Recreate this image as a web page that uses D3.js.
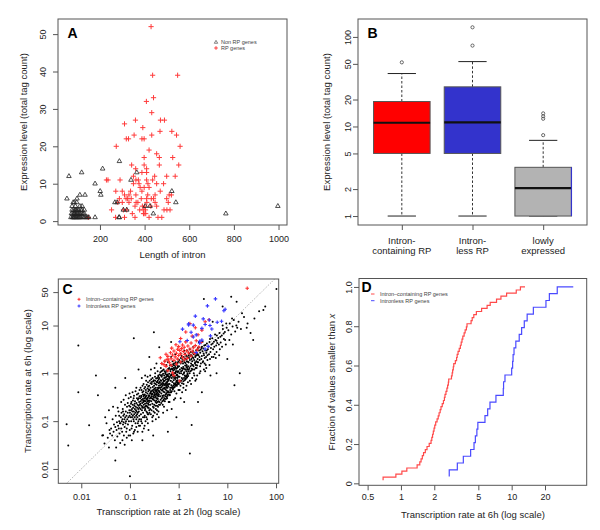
<!DOCTYPE html>
<html><head><meta charset="utf-8">
<script src="https://cdn.jsdelivr.net/npm/d3@7"></script>
<style>body{margin:0;background:#fff}svg{display:block}</style>
</head><body><svg id="fig" width="600" height="530"></svg>
<script>
// ---------- Panel A data: intron length vs expression ----------
const nonRPGenes = [[61,12],[118,13],[212,14],[52,6],[80,5],[96,5],[110,7],[133,7],[178,10],[201,8],[204,7],[267,5],[277,5],[305,3],[320,3],[287,1],[178,1],[365,13],[339,11],[287,16],[403,4],[424,4],[439,2],[522,8],[540,5],[764,2],[997,4],[285,1],[97,6],
[70,1],[72,2],[75,3],[77,1],[78,2],[80,1],[82,3],[84,2],[85,1],[86,2],[88,1],[88,3],[90,2],[92,1],[94,2],[95,3],[96,1],[98,2],[100,1],[102,2],[104,1],[105,3],[108,2],[110,1],[112,2],[115,1],[118,2],[120,3],[122,1],[125,2],[128,1],[130,2],[135,1],[140,1],[145,1],[75,4],[90,4],[110,4],[120,4],[85,5],[100,3],[115,3],[130,3],[150,1],[82,1],[92,3],[107,1]];
const rpGenes = [[429,52],[436,39],[548,39],[408,32],[440,33],[432,29],[471,27],[489,27],[359,27],[310,26],[392,25],[432,23],[353,23],[469,24],[522,24],[543,23],[318,22],[328,22],[388,22],[398,22],[273,20],[559,20],[420,19],[454,18],[466,17],[398,17],[526,17],[342,15],[398,15],[466,15],[553,15],[360,14],[409,14],[388,13],[409,13],[236,11],[229,11],[361,11],[372,11],[409,11],[436,11],[499,12],[537,12],[454,10],[350,10],[398,9],[271,8],[337,8],[388,8],[310,7],[361,7],[414,7],[447,7],[510,7],[287,6],[324,6],[409,6],[499,6],
[252,3],[305,3],[310,1],[320,3],[330,5],[340,6],[357,4],[357,1],[370,5],[378,3],[385,6],[394,3],[398,2],[400,4],[404,3],[410,5],[420,1],[428,4],[440,6],[447,5],[454,4],[460,1],[477,1],[487,3],[500,3],[506,5],[514,3],[520,7],[300,5],[317,6],[345,2],[362,5],[395,2],[405,2],[390,4],[280,5],[270,1],[148,1],[330,7],[380,9],[420,9],[430,6],[470,8],[485,10],[350,12],[375,10],[415,10],[445,12],[300,8],[290,11]];
const aXTicks = [200,400,600,800,1000];
const aYTicks = [0,10,20,30,40,50];

// ---------- Panel B data: boxplot statistics ----------
const bLabels = [["Intron-","containing RP"],["Intron-","less RP"],["lowly","expressed"]];
const bLower = [1,1,1];
const bQ1 = [5,5,1];
const bMedian = [11,11.1,2.05];
const bQ3 = [19,27.7,3.5];
const bUpper = [39,53,7];
const bOutliers = [[52],[80,128],[8,12.2,13,14]];
const bFills = ["#ff0000","#3333cc","#b3b3b3"];
const bYTicks = [1,2,5,10,20,50,100];

// ---------- Panel C data: transcription rate 2h vs 6h ----------
const intronRP2h = [1.05,0.8,0.75,0.6,0.55,0.7,0.5,0.9,0.45,0.65,1.1,0.52,0.8,0.62,1.3,0.58,0.95,0.7,1.5,0.42,1.2,0.85,0.6,1.8,1.0,0.75,1.35,0.55,1.1,2.1,0.9,1.6,0.68,1.25,1.9,0.8,1.45,1.05,2.4,0.95,1.7,1.15,0.72,2.0,1.3,2.6,1.0,1.55,2.2,1.2,0.88,1.8,2.9,1.4,2.3,1.1,1.9,2.5,1.4,3.0,2.2,1.7,3.5,4.2,25.6];
const intronRP6h = [0.69,0.9,1.02,1.13,1.4,1.48,1.52,1.56,1.6,1.66,1.72,1.8,1.87,1.9,1.93,1.96,1.99,2.02,2.06,2.12,2.17,2.21,2.26,2.3,2.36,2.42,2.47,2.5,2.55,2.6,2.64,2.68,2.7,2.86,2.9,2.93,2.97,3.0,3.1,3.18,3.22,3.28,3.36,3.44,3.5,3.56,3.62,3.72,3.8,3.9,3.95,4.3,4.4,4.55,4.8,5.35,6.0,6.4,7.3,8.0,9.0,11.0,12.0,13.2,60];
const intronlessRP2h = [2.3,3.5,4.05,2.7,1.06,2.7,1.5,3.0,2.0,4.5,2.3,1.8,1.2,4.8,3.0,4.4,2.0,1.6,3.5,1.6,6.2,7.6,4.26,3.2,2.2,8.5,9.0,3.9,5.7];
const intronlessRP6h = [2.73,3.23,3.66,4.26,4.57,4.7,4.85,4.95,5.74,6.07,6.37,7.21,8.4,8.45,8.7,10.0,10.2,10.3,10.5,10.9,11.7,12.3,13.0,13.8,15.7,20.4,21.9,25.8,36];
const otherGenes = [
[0.027,0.05],[0.03,0.034],[0.033,0.09],[0.035,0.045],[0.037,0.028],[0.038,0.065],[0.031,0.12],[0.039,0.055],
[0.041,0.07],[0.043,0.05],[0.044,0.11],[0.046,0.06],[0.047,0.085],[0.049,0.04],[0.05,0.075],[0.051,0.13],[0.053,0.065],[0.054,0.095],[0.055,0.048],[0.057,0.08],[0.058,0.16],[0.059,0.07],[0.06,0.1],[0.061,0.055],[0.062,0.09],[0.045,0.2],
[0.064,0.09],[0.065,0.12],[0.066,0.07],[0.067,0.15],[0.068,0.1],[0.069,0.06],[0.07,0.11],[0.071,0.18],[0.072,0.085],[0.073,0.13],[0.074,0.095],[0.075,0.05],[0.076,0.14],[0.077,0.11],[0.078,0.075],[0.079,0.22],[0.08,0.12],[0.081,0.09],[0.082,0.16],[0.083,0.1],[0.085,0.13],[0.086,0.07],[0.087,0.2],[0.088,0.11],[0.09,0.15],[0.091,0.085],[0.093,0.12],[0.094,0.3],[0.095,0.1],[0.097,0.17],[0.098,0.13],[0.099,0.065],
[0.1,0.15],[0.102,0.2],[0.103,0.12],[0.105,0.17],[0.106,0.1],[0.107,0.25],[0.108,0.14],[0.11,0.18],[0.111,0.08],[0.112,0.16],[0.114,0.22],[0.115,0.13],[0.116,0.19],[0.118,0.11],[0.119,0.3],[0.12,0.16],[0.122,0.14],[0.123,0.21],[0.125,0.12],[0.126,0.18],[0.127,0.26],[0.129,0.15],[0.13,0.09],[0.131,0.2],[0.133,0.17],[0.134,0.13],[0.136,0.24],[0.137,0.16],[0.139,0.36],[0.14,0.19],[0.142,0.12],[0.143,0.22],[0.145,0.15],[0.146,0.28],[0.148,0.18],[0.149,0.1],[0.151,0.21],[0.152,0.16],[0.154,0.25],[0.155,0.13],[0.156,0.19],[0.157,0.45],[0.121,0.06],[0.135,0.5],[0.109,0.04],
[0.16,0.22],[0.162,0.3],[0.164,0.18],[0.166,0.26],[0.168,0.14],[0.17,0.34],[0.172,0.21],[0.174,0.28],[0.176,0.17],[0.178,0.24],[0.18,0.4],[0.182,0.2],[0.184,0.29],[0.186,0.15],[0.188,0.25],[0.19,0.33],[0.192,0.22],[0.194,0.19],[0.196,0.3],[0.198,0.12],[0.2,0.27],[0.202,0.36],[0.204,0.23],[0.206,0.18],[0.208,0.31],[0.21,0.26],[0.212,0.45],[0.214,0.21],[0.216,0.29],[0.218,0.16],[0.22,0.34],[0.222,0.24],[0.224,0.28],[0.226,0.2],[0.228,0.38],[0.23,0.26],[0.232,0.14],[0.234,0.31],[0.236,0.23],[0.238,0.42],[0.24,0.27],[0.242,0.19],[0.244,0.33],[0.246,0.25],[0.248,0.55],[0.17,0.1],[0.19,0.6],[0.2,0.08],[0.215,0.7],[0.225,0.11],[0.235,0.65],[0.245,0.35],[0.185,0.36],[0.195,0.26],[0.205,0.2],
[0.25,0.34],[0.253,0.45],[0.256,0.27],[0.259,0.38],[0.262,0.22],[0.265,0.5],[0.268,0.31],[0.271,0.42],[0.274,0.26],[0.277,0.36],[0.28,0.6],[0.283,0.3],[0.286,0.44],[0.289,0.23],[0.292,0.37],[0.295,0.52],[0.298,0.33],[0.301,0.28],[0.304,0.46],[0.307,0.19],[0.31,0.4],[0.313,0.55],[0.316,0.35],[0.319,0.27],[0.322,0.48],[0.325,0.39],[0.328,0.7],[0.331,0.32],[0.334,0.43],[0.337,0.25],[0.34,0.5],[0.343,0.36],[0.346,0.41],[0.349,0.3],[0.352,0.58],[0.355,0.38],[0.358,0.21],[0.361,0.46],[0.364,0.35],[0.367,0.65],[0.37,0.4],[0.373,0.29],[0.376,0.5],[0.379,0.37],[0.382,0.85],[0.385,0.16],[0.388,0.44],[0.391,0.33],[0.394,0.55],[0.397,0.42],[0.26,0.9],[0.3,0.13],[0.33,1.0],[0.36,0.14],[0.39,0.75],
[0.4,0.5],[0.405,0.66],[0.41,0.4],[0.415,0.56],[0.42,0.33],[0.425,0.72],[0.43,0.46],[0.435,0.6],[0.44,0.38],[0.445,0.52],[0.45,0.85],[0.455,0.44],[0.46,0.63],[0.465,0.34],[0.47,0.55],[0.475,0.75],[0.48,0.48],[0.485,0.41],[0.49,0.68],[0.495,0.28],[0.5,0.58],[0.505,0.8],[0.51,0.5],[0.515,0.4],[0.52,0.7],[0.525,0.56],[0.53,1.0],[0.535,0.46],[0.54,0.62],[0.545,0.36],[0.55,0.74],[0.555,0.52],[0.56,0.6],[0.565,0.44],[0.57,0.86],[0.575,0.55],[0.58,0.3],[0.585,0.67],[0.59,0.5],[0.595,0.95],[0.6,0.58],[0.605,0.42],[0.61,0.72],[0.615,0.54],[0.62,1.2],[0.625,0.25],[0.43,1.3],[0.5,0.2],[0.56,1.5],[0.47,0.22],
[0.63,0.75],[0.64,0.98],[0.65,0.6],[0.66,0.84],[0.67,0.5],[0.68,1.1],[0.69,0.7],[0.7,0.9],[0.71,0.56],[0.72,0.8],[0.73,1.25],[0.74,0.66],[0.75,0.95],[0.76,0.48],[0.77,0.85],[0.78,1.15],[0.79,0.72],[0.8,0.62],[0.81,1.02],[0.82,0.42],[0.83,0.88],[0.84,1.3],[0.85,0.76],[0.86,0.6],[0.87,1.05],[0.88,0.82],[0.89,1.5],[0.9,0.7],[0.91,0.92],[0.92,0.55],[0.93,1.1],[0.94,0.8],[0.95,0.9],[0.96,0.65],[0.97,1.35],[0.98,0.85],[0.99,0.45],[0.66,0.35],[0.75,1.8],[0.85,0.3],[0.95,2.0],[0.7,0.4],[0.8,1.6],[0.9,0.38],[0.72,0.18],
[1.0,1.1],[1.02,1.4],[1.04,0.85],[1.06,1.2],[1.08,0.7],[1.1,1.6],[1.12,1.0],[1.14,1.3],[1.16,0.8],[1.18,1.15],[1.2,1.8],[1.22,0.95],[1.24,1.35],[1.26,0.6],[1.28,1.25],[1.3,1.05],[1.32,1.7],[1.34,0.9],[1.36,1.45],[1.38,0.75],[1.4,1.2],[1.42,2.0],[1.44,1.1],[1.46,1.5],[1.48,0.85],[1.5,1.3],[1.52,1.0],[1.54,2.2],[1.56,1.4],[1.05,0.45],[1.15,2.3],[1.25,0.5],[1.35,2.6],[1.45,0.55],[1.55,0.65],[1.1,0.3],[1.3,0.25],[1.5,3.0],
[1.6,1.7],[1.63,2.1],[1.66,1.3],[1.7,1.9],[1.73,1.1],[1.76,2.4],[1.8,1.6],[1.83,2.0],[1.86,1.25],[1.9,1.8],[1.93,2.7],[1.96,1.5],[2.0,2.1],[2.04,1.0],[2.08,1.9],[2.12,2.5],[2.16,1.6],[2.2,2.2],[2.24,1.3],[2.28,3.0],[2.32,1.8],[2.36,2.4],[2.4,1.45],[2.45,2.0],[2.48,3.4],[1.7,0.7],[1.9,0.8],[2.1,0.9],[2.3,0.75],[2.0,3.6],
[2.55,2.4],[2.62,3.0],[2.7,1.9],[2.78,2.7],[2.86,1.6],[2.94,3.4],[3.0,2.3],[3.1,2.9],[3.18,1.8],[3.26,2.6],[3.35,3.8],[3.44,2.1],[3.52,3.0],[3.6,1.5],[3.7,2.7],[3.8,4.2],[3.9,2.4],[3.98,3.2],[2.8,1.1],[3.3,1.2],[3.7,1.3],[2.6,4.5],
[4.1,3.6],[4.3,4.5],[4.5,2.8],[4.7,4.0],[4.9,5.4],[5.1,3.2],[5.3,4.6],[5.5,2.5],[5.7,5.0],[5.9,3.8],[6.1,6.2],[6.2,4.3],[4.4,2.0],[5.2,2.2],[6.0,2.8],
[6.5,5.5],[6.9,7.0],[7.3,4.4],[7.7,6.2],[8.1,8.5],[8.5,5.2],[8.9,7.3],[9.3,4.0],[9.7,9.0],[7.0,3.2],
[10.5,8.0],[11.2,11],[12,6.5],[12.8,9.5],[13.6,13],[14.5,7.5],[15.3,10],[17,12],[19,8.5],[22,15],[26,11],[30,7],[36,14],[45,20],[60,25],[102,58],[55,21],
[0.0054,0.031],[0.005,0.086],[0.1,0.007],[0.0087,0.4],[0.0145,0.082],[0.028,0.051],[0.037,0.17],[0.0087,3.8],[0.31,7.2],[0.12,5.4],[1.7,0.021],[1.85,0.083],[14,0.56],[18,1.0],[34,5],[3.3,36],[15.5,31.6],[0.6,0.06],[0.02,0.9],[0.05,0.5],[0.15,1.2],[0.08,0.8],[0.4,3.5],[0.25,2.2],[0.9,0.12],[3,0.4],[6,1.0],[10,2],[0.3,0.05],[0.18,0.04],[0.05,0.015],[0.022,0.35],[12,40],[8,25],[5,12],[0.7,4.5],[0.35,1.6],[4.5,0.9],[2.5,0.25],
[0.052,0.028],[0.056,0.19],[0.063,0.035],[0.066,0.25],[0.07,0.04],[0.074,0.28],[0.078,0.032],[0.082,0.35],[0.086,0.045],[0.09,0.24],[0.094,0.05],[0.098,0.38],[0.06,0.13],[0.072,0.16],[0.084,0.06],[0.096,0.21],
[0.101,0.05],[0.104,0.32],[0.108,0.07],[0.113,0.4],[0.117,0.055],[0.121,0.34],[0.126,0.065],[0.13,0.42],[0.135,0.075],[0.139,0.3],[0.144,0.06],[0.148,0.38],[0.153,0.08],[0.157,0.33],[0.105,0.23],[0.115,0.27],[0.125,0.23],[0.135,0.11],[0.145,0.09],[0.155,0.11],[0.11,0.12],[0.12,0.1],[0.14,0.14],[0.15,0.3],
[0.161,0.08],[0.165,0.5],[0.169,0.11],[0.173,0.45],[0.177,0.09],[0.181,0.55],[0.185,0.12],[0.189,0.42],[0.193,0.07],[0.197,0.48],[0.201,0.13],[0.205,0.52],[0.209,0.1],[0.213,0.4],[0.217,0.12],[0.221,0.58],[0.225,0.15],[0.229,0.48],[0.233,0.09],[0.237,0.53],[0.241,0.14],[0.245,0.46],[0.249,0.17],[0.163,0.23],[0.171,0.32],[0.179,0.19],[0.187,0.27],[0.195,0.35],[0.203,0.17],[0.211,0.33],[0.219,0.21],[0.227,0.3],[0.235,0.19],[0.243,0.22],[0.175,0.8],[0.205,0.9],[0.23,0.85],[0.18,0.06],[0.24,0.065],
[0.251,0.15],[0.255,0.7],[0.26,0.18],[0.264,0.62],[0.269,0.14],[0.273,0.75],[0.278,0.17],[0.282,0.66],[0.287,0.12],[0.291,0.8],[0.296,0.2],[0.3,0.68],[0.305,0.16],[0.309,0.72],[0.314,0.22],[0.318,0.62],[0.323,0.15],[0.327,0.85],[0.332,0.21],[0.336,0.6],[0.341,0.18],[0.345,0.78],[0.35,0.24],[0.354,0.66],[0.359,0.17],[0.363,0.8],[0.368,0.25],[0.372,0.7],[0.377,0.2],[0.381,0.9],[0.386,0.26],[0.39,0.62],[0.395,0.22],[0.399,0.8],[0.257,0.3],[0.266,0.4],[0.275,0.33],[0.284,0.38],[0.293,0.29],[0.302,0.42],[0.311,0.31],[0.32,0.36],[0.329,0.45],[0.338,0.33],[0.347,0.27],[0.356,0.44],[0.365,0.3],[0.374,0.34],[0.383,0.48],[0.392,0.36],[0.27,1.2],[0.32,1.3],[0.37,1.1],[0.29,0.1],[0.34,0.11],[0.39,0.12],
[0.402,0.25],[0.408,0.95],[0.414,0.22],[0.42,1.05],[0.426,0.28],[0.432,0.9],[0.438,0.24],[0.444,1.1],[0.45,0.3],[0.456,0.92],[0.462,0.26],[0.468,1.15],[0.474,0.32],[0.48,0.98],[0.486,0.27],[0.492,1.2],[0.498,0.35],[0.504,0.9],[0.51,0.3],[0.516,1.1],[0.522,0.26],[0.528,0.82],[0.534,0.33],[0.54,1.05],[0.546,0.29],[0.552,0.95],[0.558,0.38],[0.564,1.15],[0.57,0.32],[0.576,0.88],[0.582,0.4],[0.588,1.1],[0.594,0.34],[0.6,0.9],[0.606,0.36],[0.612,1.25],[0.618,0.4],[0.624,0.85],[0.41,0.64],[0.425,0.5],[0.44,0.7],[0.455,0.58],[0.47,0.45],[0.485,0.62],[0.5,0.7],[0.515,0.48],[0.53,0.6],[0.545,0.82],[0.56,0.5],[0.575,0.65],[0.59,0.76],[0.605,0.6],[0.62,0.7],[0.45,1.6],[0.52,1.8],[0.6,1.7],[0.48,0.15],[0.58,0.17],
[0.632,0.4],[0.641,1.3],[0.65,0.36],[0.659,1.45],[0.668,0.45],[0.677,1.2],[0.686,0.4],[0.695,1.5],[0.704,0.5],[0.713,1.25],[0.722,0.42],[0.731,1.4],[0.74,0.52],[0.749,1.2],[0.758,0.46],[0.767,1.55],[0.776,0.55],[0.785,1.3],[0.794,0.5],[0.803,1.45],[0.812,0.58],[0.821,1.2],[0.83,0.52],[0.839,1.6],[0.848,0.6],[0.857,1.35],[0.866,0.55],[0.875,1.7],[0.884,0.65],[0.893,1.25],[0.902,0.58],[0.911,1.5],[0.92,0.68],[0.929,1.3],[0.938,0.6],[0.947,1.65],[0.956,0.72],[0.965,1.4],[0.974,0.62],[0.983,1.75],[0.645,0.8],[0.68,0.9],[0.71,0.95],[0.74,1.0],[0.78,0.92],[0.81,0.8],[0.85,1.0],[0.88,1.1],[0.92,0.95],[0.96,1.05],[0.7,2.2],[0.85,2.5],[0.65,0.25],[0.8,0.28],
[1.01,0.6],[1.03,1.9],[1.05,0.65],[1.07,1.7],[1.09,0.55],[1.11,2.1],[1.13,0.7],[1.15,1.75],[1.17,0.62],[1.19,2.0],[1.21,0.75],[1.23,1.6],[1.25,0.68],[1.27,2.2],[1.29,0.8],[1.31,1.85],[1.33,0.72],[1.35,2.05],[1.37,0.85],[1.39,1.65],[1.41,0.78],[1.43,2.3],[1.45,0.9],[1.47,1.8],[1.49,0.82],[1.51,2.1],[1.53,0.95],[1.55,1.75],[1.57,0.88],[1.59,2.4],[1.04,1.0],[1.12,1.1],[1.2,1.25],[1.28,1.0],[1.36,1.2],[1.44,1.35],[1.52,1.2],[1.58,1.1],[1.18,0.4],[1.4,0.45],[1.3,3.0],[1.1,2.6],
[1.62,1.2],[1.65,2.6],[1.68,1.0],[1.72,2.3],[1.75,1.4],[1.78,2.8],[1.82,1.15],[1.85,2.4],[1.88,1.5],[1.92,2.2],[1.95,1.2],[1.98,2.9],[2.02,1.4],[2.06,2.5],[2.1,1.2],[2.14,2.7],[2.18,1.7],[2.22,2.3],[2.26,1.5],[2.3,2.6],[2.34,1.3],[2.38,3.1],[2.42,1.7],[2.46,2.5],[1.8,0.6],[2.2,0.7],[2.4,0.9],[1.7,3.2],
[2.52,1.7],[2.6,3.5],[2.68,2.2],[2.76,1.4],[2.84,3.1],[2.92,2.0],[3.02,3.6],[3.12,1.7],[3.22,3.3],[3.32,2.4],[3.42,1.6],[3.54,3.9],[3.66,2.2],[3.78,3.0],[3.9,1.9],[2.7,1.0],[3.5,1.1],[3.1,4.6],
[4.2,2.5],[4.4,5.2],[4.6,3.4],[4.8,2.2],[5.0,4.2],[5.4,3.6],[5.8,2.1],[6.0,4.8],[4.3,1.5],[5.6,6.5],
[6.7,4.0],[7.2,5.8],[7.8,3.6],[8.4,6.8],[9.0,5.0],[9.5,11],[6.8,2.4],[8.0,10],
[11,5],[12.5,14],[16,9],[20,18],[25,9],[13,4]];
const cXTicks = [0.01,0.1,1,10,100];
const cYTicks = [0.01,0.1,1,10,50];

// ---------- Panel D data: sorted 6h rates for ECDF ----------
const ecdfIntron6h = [0.69,0.9,1.02,1.13,1.4,1.48,1.52,1.56,1.6,1.66,1.72,1.8,1.87,1.9,1.93,1.96,1.99,2.02,2.06,2.12,2.17,2.21,2.26,2.3,2.36,2.42,2.47,2.5,2.55,2.6,2.64,2.68,2.7,2.86,2.9,2.93,2.97,3.0,3.1,3.18,3.22,3.28,3.36,3.44,3.5,3.56,3.62,3.72,3.8,3.9,3.95,4.3,4.4,4.55,4.8,5.35,6.0,6.4,7.3,8.0,9.0,11.0,12.0,13.2];
const ecdfIntronless6h = [2.73,3.23,3.66,4.26,4.57,4.7,4.85,4.95,5.74,6.07,6.37,7.21,8.4,8.45,8.7,10.0,10.2,10.3,10.5,10.9,11.7,12.3,13.0,13.8,15.7,20.4,21.9,25.8,36];
const dXTicks = [0.5,1,2,5,10,20];
const dYTicks = [0,0.2,0.4,0.6,0.8,1.0];

// ================= drawing =================
const FONT = '"Liberation Sans", Arial, Helvetica, sans-serif';
const svg = d3.select("#fig").attr("font-family", FONT);
const BOX = "#555", TXT = "#222";

function frame(x0, y0, x1, y1) {
  svg.append("rect").attr("x", x0).attr("y", y0).attr("width", x1 - x0).attr("height", y1 - y0)
    .attr("fill", "none").attr("stroke", BOX).attr("stroke-width", 1);
}
function bottomAxis(scale, y, ticks, fmt, baseline) {
  const g = svg.append("g").attr("transform", `translate(0,${y})`)
    .call(d3.axisBottom(scale).tickValues(ticks).tickFormat(fmt).tickSize(5).tickSizeOuter(0));
  g.attr("font-family", FONT).attr("font-size", 9);
  g.select(".domain").remove();
  g.selectAll(".tick line").attr("stroke", BOX);
  g.selectAll(".tick text").attr("y", baseline - y).attr("dy", null).attr("fill", TXT);
  return g;
}
function leftAxis(scale, x, ticks, fmt, centerX) {
  const g = svg.append("g").attr("transform", `translate(${x},0)`)
    .call(d3.axisLeft(scale).tickValues(ticks).tickFormat(fmt).tickSize(5).tickSizeOuter(0));
  g.attr("font-family", FONT).attr("font-size", 9);
  g.select(".domain").remove();
  g.selectAll(".tick line").attr("stroke", BOX);
  g.selectAll(".tick text").attr("x", null).attr("dy", null).attr("text-anchor", "middle").attr("fill", TXT)
    .attr("transform", `translate(${centerX - x + 3.2},0) rotate(-90)`);
  return g;
}
function yTitle(text, cx, cy) {
  return svg.append("text").attr("transform", `translate(${cx + 3.4},${cy}) rotate(-90)`)
    .attr("text-anchor", "middle").attr("font-size", 9.5).attr("fill", TXT).text(text);
}
function xTitle(text, cx, baseline) {
  return svg.append("text").attr("x", cx).attr("y", baseline).attr("text-anchor", "middle")
    .attr("font-size", 9.5).attr("fill", TXT).text(text);
}
function letter(t, x, y) {
  svg.append("text").attr("x", x).attr("y", y).attr("font-size", 14).attr("font-weight", "bold").attr("fill", "#000").text(t);
}
const plusPath = s => `M${-s},0H${s}M0,${-s}V${s}`;
const tri = d3.symbol(d3.symbolTriangle, 9);

// ----- Panel A -----
{
  const x = d3.scaleLinear([12, 1038], [58, 287]);
  const y = d3.scaleLinear([-1.04, 54.04], [225, 19]);
  svg.append("g").selectAll("path").data(rpGenes).join("path")
    .attr("transform", d => `translate(${x(d[0])},${y(d[1])})`).attr("d", plusPath(2.6))
    .attr("stroke", "#ff3b3b").attr("stroke-width", 1).attr("fill", "none");
  svg.append("g").selectAll("path").data(nonRPGenes).join("path")
    .attr("transform", d => `translate(${x(d[0])},${y(d[1])})`).attr("d", tri)
    .attr("stroke", "#222").attr("stroke-width", 0.8).attr("fill", "none");
  frame(58, 19, 287, 225);
  bottomAxis(x, 225, aXTicks, d3.format("d"), 242);
  leftAxis(y, 58, aYTicks, d3.format("d"), 43);
  xTitle("Length of intron", 172.5, 257.5);
  yTitle("Expression level (total tag count)", 24, 122);
  letter("A", 67.5, 38);
  svg.append("path").attr("transform", "translate(216,42.3)").attr("d", d3.symbol(d3.symbolTriangle, 5)())
    .attr("stroke", "#333").attr("stroke-width", 0.6).attr("fill", "none");
  svg.append("path").attr("transform", "translate(216,48)").attr("d", plusPath(1.8))
    .attr("stroke", "#ff3b3b").attr("stroke-width", 1);
  svg.append("text").attr("x", 221).attr("y", 44.2).attr("font-size", 5.5).attr("fill", "#444").text("Non RP genes");
  svg.append("text").attr("x", 221).attr("y", 50).attr("font-size", 5.5).attr("fill", "#444").text("RP genes");
}

// ----- Panel B -----
{
  const x = d3.scaleLinear([0.38, 3.62], [358, 587]);
  const y = d3.scaleLog([Math.pow(10, -0.1), Math.pow(10, 2.2)], [225, 19]);
  const g = svg.append("g");
  bLabels.forEach((lab, i) => {
    const cx = x(i + 1), hw = x(i + 1.4) - cx, cap = hw * 0.5;
    g.append("line").attr("x1", cx).attr("x2", cx).attr("y1", y(bQ3[i])).attr("y2", y(bUpper[i]))
      .attr("stroke", "#333").attr("stroke-dasharray", "2.5,2").attr("stroke-width", 1);
    g.append("line").attr("x1", cx).attr("x2", cx).attr("y1", y(bQ1[i])).attr("y2", y(bLower[i]))
      .attr("stroke", "#333").attr("stroke-dasharray", "2.5,2").attr("stroke-width", 1);
    g.append("line").attr("x1", cx - cap).attr("x2", cx + cap).attr("y1", y(bUpper[i])).attr("y2", y(bUpper[i]))
      .attr("stroke", "#222").attr("stroke-width", 1);
    g.append("line").attr("x1", cx - cap).attr("x2", cx + cap).attr("y1", y(bLower[i])).attr("y2", y(bLower[i]))
      .attr("stroke", "#222").attr("stroke-width", 1);
    g.append("rect").attr("x", cx - hw).attr("width", 2 * hw).attr("y", y(bQ3[i])).attr("height", y(bQ1[i]) - y(bQ3[i]))
      .attr("fill", bFills[i]).attr("stroke", "#555").attr("stroke-width", 1);
    g.append("line").attr("x1", cx - hw).attr("x2", cx + hw).attr("y1", y(bMedian[i])).attr("y2", y(bMedian[i]))
      .attr("stroke", "#111").attr("stroke-width", 2.2);
    g.selectAll(null).data(bOutliers[i]).join("circle").attr("cx", cx).attr("cy", d => y(d)).attr("r", 1.6)
      .attr("fill", "none").attr("stroke", "#444").attr("stroke-width", 0.8);
    if (i === 2) g.append("line").attr("x1", cx + hw).attr("x2", cx + hw).attr("y1", y(bQ3[i])).attr("y2", y(bQ1[i]))
      .attr("stroke", "#3333cc").attr("stroke-width", 1.2);
    lab.forEach((t, k) => svg.append("text").attr("x", cx).attr("y", 243.5 + k * 10.7).attr("text-anchor", "middle")
      .attr("font-size", 9.5).attr("fill", TXT).text(t));
  });
  frame(358, 19, 587, 225);
  bottomAxis(x, 225, [1, 2, 3], () => "", 240);
  leftAxis(y, 358, bYTicks, d3.format("d"), 347.7);
  yTitle("Expression level (total tag count)", 326.7, 122);
  letter("B", 367.5, 38);
}

// ----- Panel C -----
{
  const x = d3.scaleLog([Math.pow(10, -2.472), Math.pow(10, 2.055)], [58.3, 278.7]);
  const y = d3.scaleLog([Math.pow(10, -2.30), Math.pow(10, 1.973)], [483.3, 279]);
  const v0 = Math.pow(10, -2.30), v1 = Math.pow(10, 1.973);
  svg.append("line").attr("x1", x(v0)).attr("y1", y(v0)).attr("x2", x(v1)).attr("y2", y(v1))
    .attr("stroke", "#888").attr("stroke-dasharray", "1,1.5").attr("stroke-width", 0.8);
  svg.append("g").selectAll("circle").data(otherGenes).join("circle")
    .attr("cx", d => x(d[0])).attr("cy", d => y(d[1])).attr("r", 1.0).attr("fill", "#000");
  svg.append("g").selectAll("path").data(intronRP6h).join("path")
    .attr("transform", (d, i) => `translate(${x(intronRP2h[i])},${y(d)})`).attr("d", plusPath(1.8))
    .attr("stroke", "#ff3030").attr("stroke-width", 1.1);
  svg.append("g").selectAll("path").data(intronlessRP6h).join("path")
    .attr("transform", (d, i) => `translate(${x(intronlessRP2h[i])},${y(d)})`).attr("d", plusPath(1.8))
    .attr("stroke", "#3838ff").attr("stroke-width", 1.1);
  frame(58.3, 279, 278.7, 483.3);
  bottomAxis(x, 483.3, cXTicks, d => String(d), 500);
  leftAxis(y, 58.3, cYTicks, d => String(d), 45);
  xTitle("Transcription rate at 2h (log scale)", 168.5, 515);
  yTitle("Transcription rate at 6h (log scale)", 28, 381);
  letter("C", 62.5, 294);
  svg.append("path").attr("transform", "translate(79,299.3)").attr("d", plusPath(1.5)).attr("stroke", "#ff3030").attr("stroke-width", 1);
  svg.append("path").attr("transform", "translate(79,306)").attr("d", plusPath(1.5)).attr("stroke", "#3838ff").attr("stroke-width", 1);
  svg.append("text").attr("x", 86).attr("y", 301.2).attr("font-size", 5.5).attr("fill", "#444").text("Intron–containing RP genes");
  svg.append("text").attr("x", 86).attr("y", 307.9).attr("font-size", 5.5).attr("fill", "#444").text("Intronless RP genes");
}

// ----- Panel D -----
{
  const x = d3.scaleLog([0.418, 47.6], [359, 586.7]);
  const y = d3.scaleLinear([-0.01, 1.043], [485.3, 278.5]);
  const line = d3.line().curve(d3.curveStepBefore).x(d => x(d[0])).y(d => y(d[1]));
  const redPts = ecdfIntron6h.map((v, i) => [v, (i + 1) / ecdfIntron6h.length]);
  const bluePts = ecdfIntronless6h.map((v, i) => [v, (i + 1) / ecdfIntronless6h.length]);
  svg.append("path").attr("d", line(redPts)).attr("fill", "none").attr("stroke", "#ff4a4a").attr("stroke-width", 1.2);
  svg.append("path").attr("d", line(bluePts)).attr("fill", "none").attr("stroke", "#4a4aff").attr("stroke-width", 1.2);
  frame(359, 278.5, 586.7, 485.3);
  bottomAxis(x, 485.3, dXTicks, d => String(d), 500);
  leftAxis(y, 359, dYTicks, d => d === 0 ? "0" : d.toFixed(1), 348.3);
  xTitle("Transcription rate at 6h (log scale)", 473, 518);
  const yt = yTitle("Fraction of values smaller than ", 331.7, 382);
  yt.append("tspan").attr("font-style", "italic").text("x");
  letter("D", 361.5, 292);
  svg.append("line").attr("x1", 371).attr("x2", 374.5).attr("y1", 294).attr("y2", 294).attr("stroke", "#ff4a4a").attr("stroke-width", 1);
  svg.append("line").attr("x1", 371).attr("x2", 374.5).attr("y1", 300.7).attr("y2", 300.7).attr("stroke", "#4a4aff").attr("stroke-width", 1);
  svg.append("text").attr("x", 380).attr("y", 296).attr("font-size", 5.5).attr("fill", "#444").text("Intron–containing RP genes");
  svg.append("text").attr("x", 380).attr("y", 302.6).attr("font-size", 5.5).attr("fill", "#444").text("Intronless RP genes");
}
</script></body></html>
